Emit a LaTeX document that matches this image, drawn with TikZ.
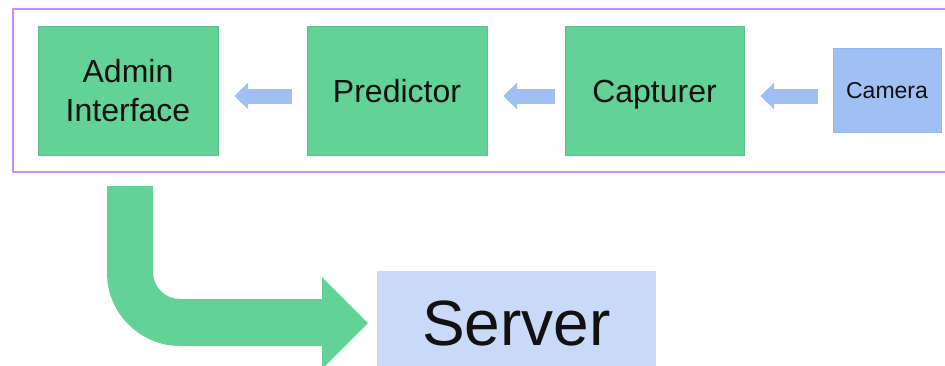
\documentclass[tikz,border=0pt]{standalone}
\usepackage{fontspec}
\setmainfont{Liberation Sans}
\usetikzlibrary{arrows.meta}
\definecolor{boxgreen}{HTML}{63D297}
\definecolor{flowblue}{HTML}{A0BFF3}
\definecolor{flowblueedge}{HTML}{93B4EE}
\definecolor{serverblue}{HTML}{C9DAF8}
\definecolor{framepurple}{HTML}{CC8EF5}
\definecolor{ink}{HTML}{111111}
\tikzset{
  stage/.style={fill=boxgreen, draw=boxgreen!92!black, line width=0.4pt,
    minimum width=180pt, minimum height=129pt, inner sep=0pt,
    text=ink, font=\fontsize{32}{39}\selectfont,
    text height=23pt, text depth=0pt, align=center},
  device/.style={fill=flowblue, draw=flowblueedge, line width=0.6pt,
    minimum width=108pt, minimum height=84pt, inner sep=0pt,
    text=ink, font=\fontsize{23}{28}\selectfont,
    text height=16.5pt, text depth=0pt},
  flow/.style={draw=flowblue, line width=15pt,
    -{Triangle[length=14pt,width=26pt]}},
}
\begin{document}
\begin{tikzpicture}[x=1pt, y=-1pt]
  \useasboundingbox (0,0) rectangle (945,365);
  \clip (0,0) rectangle (945,365);

  % enclosing frame of the capture pipeline
  \draw[framepurple, line width=2pt] (13,9) rectangle (960,172);

  % pipeline stages
  \node[stage, text height=62pt] (admin) at (128,90.5) {Admin\\Interface};
  \node[stage] (predictor) at (397,90.5) {Predictor};
  \node[stage, minimum width=179pt] (capturer) at (654.5,90.5) {Capturer};
  \node[device] (camera) at (887,90) {Camera};

  % data flow between stages
  \draw[flow, shorten <=15pt, shorten >=16pt] (camera.west |- 0,96) -- (capturer.east |- 0,96);
  \draw[flow, shorten <=10pt, shorten >=16pt] (capturer.west |- 0,96) -- (predictor.east |- 0,96);
  \draw[flow, shorten <=15pt, shorten >=16pt] (predictor.west |- 0,96) -- (admin.east |- 0,96);

  % server
  \fill[serverblue] (377,271) rectangle (656,380);
  \node[anchor=base, inner sep=0pt, text=ink, font=\fontsize{64}{70}\selectfont]
    (server) at (516.5,345) {Server};

  % bent arrow from the admin interface down to the server
  \fill[boxgreen]
    (107,186) -- (153,186) -- (153,272)
    .. controls (153,287) and (165,299) .. (180,299)
    -- (322,299) -- (322,277) -- (368,323) -- (322,369) -- (322,346)
    -- (180,346)
    .. controls (140,346) and (107,313) .. (107,273)
    -- cycle;
\end{tikzpicture}
\end{document}
